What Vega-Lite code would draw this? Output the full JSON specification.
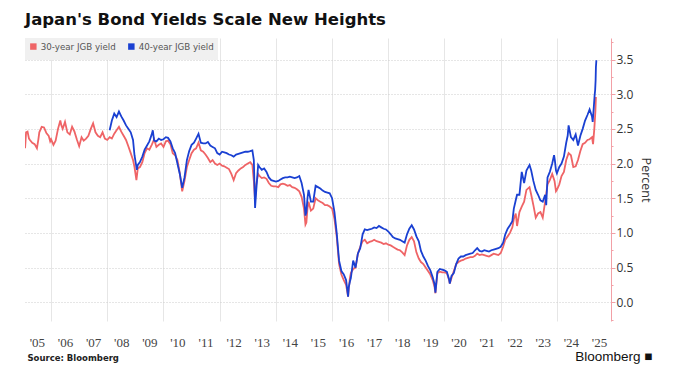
{
  "$schema": "https://vega.github.io/schema/vega-lite/v6.json",
  "width": 586,
  "height": 283,
  "autosize": {"type": "none"},
  "padding": {"left": 25, "top": 38, "right": 69, "bottom": 70},
  "background": "white",
  "title": {"text": "Japan's Bond Yields Scale New Heights", "anchor": "start", "frame": "group", "font": "DejaVu Sans", "fontSize": 16.5, "fontWeight": "bold", "color": "#111111", "offset": 10},
  "config": {"view": {"stroke": null}},
  "datasets": {
    "r30": [
      {"d":"2005-01-28","v":2.22},{"d":"2005-02-10","v":2.45},{"d":"2005-03-01","v":2.46},{"d":"2005-03-20","v":2.36},{"d":"2005-04-01","v":2.34},{"d":"2005-05-01","v":2.30},{"d":"2005-06-01","v":2.28},{"d":"2005-07-01","v":2.22},{"d":"2005-07-20","v":2.35},{"d":"2005-08-01","v":2.45},{"d":"2005-09-01","v":2.53},{"d":"2005-10-01","v":2.52},{"d":"2005-10-20","v":2.47},{"d":"2005-11-01","v":2.44},{"d":"2005-12-01","v":2.40},{"d":"2005-12-20","v":2.32},
      {"d":"2006-01-01","v":2.35},{"d":"2006-02-01","v":2.27},{"d":"2006-03-01","v":2.33},{"d":"2006-04-01","v":2.50},{"d":"2006-05-01","v":2.62},{"d":"2006-05-15","v":2.55},{"d":"2006-06-01","v":2.50},{"d":"2006-07-01","v":2.60},{"d":"2006-08-01","v":2.45},{"d":"2006-09-01","v":2.42},{"d":"2006-10-01","v":2.53},{"d":"2006-11-01","v":2.46},{"d":"2006-12-01","v":2.35},
      {"d":"2007-01-01","v":2.25},{"d":"2007-02-01","v":2.38},{"d":"2007-03-01","v":2.33},{"d":"2007-04-01","v":2.36},{"d":"2007-05-01","v":2.40},{"d":"2007-06-01","v":2.50},{"d":"2007-07-01","v":2.58},{"d":"2007-08-01","v":2.45},{"d":"2007-09-01","v":2.40},{"d":"2007-10-01","v":2.38},{"d":"2007-11-01","v":2.45},{"d":"2007-12-01","v":2.36},
      {"d":"2008-01-01","v":2.34},{"d":"2008-02-01","v":2.38},{"d":"2008-03-01","v":2.36},{"d":"2008-04-01","v":2.43},{"d":"2008-05-01","v":2.48},{"d":"2008-06-01","v":2.53},{"d":"2008-07-01","v":2.46},{"d":"2008-08-01","v":2.40},{"d":"2008-09-01","v":2.34},{"d":"2008-10-01","v":2.25},{"d":"2008-11-01","v":2.15},{"d":"2008-12-01","v":2.05},{"d":"2008-12-20","v":1.95},
      {"d":"2009-01-14","v":1.76},{"d":"2009-02-01","v":1.93},{"d":"2009-03-01","v":1.95},{"d":"2009-04-01","v":2.02},{"d":"2009-05-01","v":2.15},{"d":"2009-06-01","v":2.22},{"d":"2009-07-01","v":2.20},{"d":"2009-08-01","v":2.27},{"d":"2009-09-01","v":2.35},{"d":"2009-10-01","v":2.24},{"d":"2009-11-01","v":2.27},{"d":"2009-12-01","v":2.29},
      {"d":"2010-01-01","v":2.24},{"d":"2010-02-01","v":2.32},{"d":"2010-03-01","v":2.33},{"d":"2010-04-01","v":2.28},{"d":"2010-05-01","v":2.15},{"d":"2010-06-01","v":2.12},{"d":"2010-07-01","v":2.05},{"d":"2010-08-01","v":1.86},{"d":"2010-09-01","v":1.60},{"d":"2010-10-01","v":1.75},{"d":"2010-11-01","v":1.95},{"d":"2010-12-01","v":2.05},
      {"d":"2011-01-01","v":2.15},{"d":"2011-02-01","v":2.20},{"d":"2011-03-01","v":2.22},{"d":"2011-04-01","v":2.30},{"d":"2011-05-01","v":2.19},{"d":"2011-06-01","v":2.17},{"d":"2011-07-01","v":2.13},{"d":"2011-08-01","v":2.08},{"d":"2011-09-01","v":2.02},{"d":"2011-10-01","v":2.05},{"d":"2011-11-01","v":2.00},{"d":"2011-12-01","v":1.98},
      {"d":"2012-01-01","v":2.00},{"d":"2012-02-01","v":1.97},{"d":"2012-03-01","v":1.96},{"d":"2012-04-01","v":1.94},{"d":"2012-05-01","v":1.92},{"d":"2012-06-01","v":1.85},{"d":"2012-07-01","v":1.76},{"d":"2012-08-01","v":1.86},{"d":"2012-09-01","v":1.90},{"d":"2012-10-01","v":1.93},{"d":"2012-11-01","v":1.95},{"d":"2012-12-01","v":1.98},
      {"d":"2013-01-01","v":2.00},{"d":"2013-02-01","v":2.02},{"d":"2013-03-01","v":1.98},{"d":"2013-03-20","v":1.75},{"d":"2013-04-05","v":1.47},{"d":"2013-04-20","v":1.70},{"d":"2013-05-15","v":1.85},{"d":"2013-06-01","v":1.82},{"d":"2013-07-01","v":1.79},{"d":"2013-08-01","v":1.80},{"d":"2013-09-01","v":1.78},{"d":"2013-10-01","v":1.72},{"d":"2013-11-01","v":1.68},{"d":"2013-12-01","v":1.67},
      {"d":"2014-01-01","v":1.67},{"d":"2014-02-01","v":1.66},{"d":"2014-03-01","v":1.70},{"d":"2014-04-01","v":1.71},{"d":"2014-05-01","v":1.70},{"d":"2014-06-01","v":1.68},{"d":"2014-07-01","v":1.69},{"d":"2014-08-01","v":1.66},{"d":"2014-09-01","v":1.65},{"d":"2014-10-01","v":1.63},{"d":"2014-11-01","v":1.60},{"d":"2014-12-01","v":1.52},
      {"d":"2015-01-01","v":1.35},{"d":"2015-01-20","v":1.12},{"d":"2015-02-01","v":1.15},{"d":"2015-02-15","v":1.35},{"d":"2015-03-01","v":1.45},{"d":"2015-04-01","v":1.32},{"d":"2015-05-01","v":1.35},{"d":"2015-06-01","v":1.50},{"d":"2015-07-01","v":1.47},{"d":"2015-08-01","v":1.45},{"d":"2015-09-01","v":1.43},{"d":"2015-10-01","v":1.40},{"d":"2015-11-01","v":1.40},{"d":"2015-12-01","v":1.38},
      {"d":"2016-01-01","v":1.35},{"d":"2016-02-01","v":1.20},{"d":"2016-03-01","v":0.95},{"d":"2016-04-01","v":0.55},{"d":"2016-05-01","v":0.40},{"d":"2016-06-01","v":0.32},{"d":"2016-07-01","v":0.25},{"d":"2016-07-27","v":0.08},{"d":"2016-08-05","v":0.20},{"d":"2016-08-20","v":0.35},{"d":"2016-09-01","v":0.42},{"d":"2016-10-01","v":0.48},{"d":"2016-11-01","v":0.50},{"d":"2016-12-01","v":0.70},
      {"d":"2017-01-01","v":0.80},{"d":"2017-02-01","v":0.88},{"d":"2017-03-01","v":0.90},{"d":"2017-04-01","v":0.85},{"d":"2017-05-01","v":0.87},{"d":"2017-06-01","v":0.88},{"d":"2017-07-01","v":0.90},{"d":"2017-08-01","v":0.88},{"d":"2017-09-01","v":0.87},{"d":"2017-10-01","v":0.86},{"d":"2017-11-01","v":0.84},{"d":"2017-12-01","v":0.85},
      {"d":"2018-01-01","v":0.83},{"d":"2018-02-01","v":0.82},{"d":"2018-03-01","v":0.80},{"d":"2018-04-01","v":0.78},{"d":"2018-05-01","v":0.76},{"d":"2018-06-01","v":0.75},{"d":"2018-07-01","v":0.72},{"d":"2018-08-01","v":0.68},{"d":"2018-09-01","v":0.82},{"d":"2018-10-01","v":0.90},{"d":"2018-11-01","v":0.94},{"d":"2018-12-01","v":0.88},
      {"d":"2019-01-01","v":0.72},{"d":"2019-02-01","v":0.63},{"d":"2019-03-01","v":0.58},{"d":"2019-04-01","v":0.55},{"d":"2019-05-01","v":0.50},{"d":"2019-06-01","v":0.45},{"d":"2019-07-01","v":0.40},{"d":"2019-08-01","v":0.32},{"d":"2019-08-25","v":0.22},{"d":"2019-09-05","v":0.13},{"d":"2019-09-20","v":0.30},{"d":"2019-10-01","v":0.42},{"d":"2019-11-01","v":0.44},{"d":"2019-12-01","v":0.43},
      {"d":"2020-01-01","v":0.43},{"d":"2020-02-01","v":0.42},{"d":"2020-03-01","v":0.32},{"d":"2020-03-10","v":0.27},{"d":"2020-04-01","v":0.35},{"d":"2020-05-01","v":0.45},{"d":"2020-06-01","v":0.55},{"d":"2020-07-01","v":0.58},{"d":"2020-08-01","v":0.60},{"d":"2020-09-01","v":0.61},{"d":"2020-10-01","v":0.63},{"d":"2020-11-01","v":0.64},{"d":"2020-12-01","v":0.65},
      {"d":"2021-01-01","v":0.65},{"d":"2021-02-01","v":0.67},{"d":"2021-03-01","v":0.70},{"d":"2021-04-01","v":0.68},{"d":"2021-05-01","v":0.69},{"d":"2021-06-01","v":0.68},{"d":"2021-07-01","v":0.67},{"d":"2021-08-01","v":0.66},{"d":"2021-09-01","v":0.68},{"d":"2021-10-01","v":0.70},{"d":"2021-11-01","v":0.69},{"d":"2021-12-01","v":0.68},
      {"d":"2022-01-01","v":0.71},{"d":"2022-02-01","v":0.80},{"d":"2022-03-01","v":0.90},{"d":"2022-04-01","v":0.95},{"d":"2022-05-01","v":1.00},{"d":"2022-06-01","v":1.08},{"d":"2022-06-20","v":1.20},{"d":"2022-07-15","v":1.28},{"d":"2022-08-01","v":1.10},{"d":"2022-09-01","v":1.30},{"d":"2022-10-01","v":1.38},{"d":"2022-11-01","v":1.45},{"d":"2022-12-01","v":1.62},
      {"d":"2023-01-10","v":1.66},{"d":"2023-02-01","v":1.55},{"d":"2023-03-01","v":1.40},{"d":"2023-04-01","v":1.22},{"d":"2023-05-01","v":1.28},{"d":"2023-06-01","v":1.30},{"d":"2023-07-01","v":1.22},{"d":"2023-08-01","v":1.45},{"d":"2023-09-01","v":1.70},{"d":"2023-10-01","v":1.76},{"d":"2023-11-01","v":1.85},{"d":"2023-12-01","v":1.75},{"d":"2023-12-20","v":1.60},
      {"d":"2024-01-01","v":1.62},{"d":"2024-02-01","v":1.70},{"d":"2024-03-01","v":1.82},{"d":"2024-04-01","v":1.88},{"d":"2024-05-01","v":2.05},{"d":"2024-06-01","v":2.15},{"d":"2024-07-01","v":2.12},{"d":"2024-08-01","v":1.95},{"d":"2024-09-01","v":1.96},{"d":"2024-10-01","v":2.05},{"d":"2024-11-01","v":2.18},{"d":"2024-12-01","v":2.28},
      {"d":"2025-01-01","v":2.30},{"d":"2025-02-01","v":2.34},{"d":"2025-03-01","v":2.35},{"d":"2025-04-01","v":2.38},{"d":"2025-04-15","v":2.28},{"d":"2025-05-01","v":2.50},{"d":"2025-05-15","v":2.75},{"d":"2025-05-22","v":2.96}
    ],
    "r40": [
      {"d":"2008-02-01","v":2.48},{"d":"2008-03-01","v":2.62},{"d":"2008-04-01","v":2.72},{"d":"2008-05-01","v":2.67},{"d":"2008-06-01","v":2.75},{"d":"2008-07-01","v":2.68},{"d":"2008-08-01","v":2.62},{"d":"2008-09-01","v":2.55},{"d":"2008-10-01","v":2.50},{"d":"2008-11-01","v":2.45},{"d":"2008-12-01","v":2.34},{"d":"2008-12-20","v":2.12},
      {"d":"2009-01-20","v":1.91},{"d":"2009-02-01","v":1.98},{"d":"2009-03-01","v":2.02},{"d":"2009-04-01","v":2.10},{"d":"2009-05-01","v":2.20},{"d":"2009-06-01","v":2.26},{"d":"2009-07-01","v":2.32},{"d":"2009-08-01","v":2.42},{"d":"2009-08-15","v":2.48},{"d":"2009-09-01","v":2.33},{"d":"2009-10-01","v":2.32},{"d":"2009-11-01","v":2.36},{"d":"2009-12-01","v":2.34},
      {"d":"2010-01-01","v":2.35},{"d":"2010-02-01","v":2.38},{"d":"2010-03-01","v":2.37},{"d":"2010-04-01","v":2.32},{"d":"2010-05-01","v":2.22},{"d":"2010-06-01","v":2.15},{"d":"2010-07-01","v":2.00},{"d":"2010-08-01","v":1.85},{"d":"2010-09-01","v":1.65},{"d":"2010-10-01","v":1.80},{"d":"2010-11-01","v":2.05},{"d":"2010-12-01","v":2.18},
      {"d":"2011-01-01","v":2.27},{"d":"2011-02-01","v":2.30},{"d":"2011-03-01","v":2.36},{"d":"2011-04-01","v":2.43},{"d":"2011-05-01","v":2.30},{"d":"2011-06-01","v":2.29},{"d":"2011-07-01","v":2.29},{"d":"2011-08-01","v":2.31},{"d":"2011-09-01","v":2.26},{"d":"2011-10-01","v":2.24},{"d":"2011-11-01","v":2.22},{"d":"2011-12-01","v":2.15},
      {"d":"2012-01-01","v":2.13},{"d":"2012-02-01","v":2.17},{"d":"2012-03-01","v":2.16},{"d":"2012-04-01","v":2.15},{"d":"2012-05-01","v":2.13},{"d":"2012-06-01","v":2.12},{"d":"2012-07-01","v":2.10},{"d":"2012-08-01","v":2.13},{"d":"2012-09-01","v":2.14},{"d":"2012-10-01","v":2.15},{"d":"2012-11-01","v":2.16},{"d":"2012-12-01","v":2.17},
      {"d":"2013-01-01","v":2.17},{"d":"2013-02-01","v":2.18},{"d":"2013-03-01","v":2.19},{"d":"2013-03-20","v":2.05},{"d":"2013-04-05","v":1.36},{"d":"2013-04-20","v":1.60},{"d":"2013-05-15","v":1.98},{"d":"2013-06-01","v":1.95},{"d":"2013-07-01","v":1.91},{"d":"2013-08-01","v":1.93},{"d":"2013-09-01","v":1.88},{"d":"2013-10-01","v":1.80},{"d":"2013-11-01","v":1.76},{"d":"2013-12-01","v":1.75},
      {"d":"2014-01-01","v":1.74},{"d":"2014-02-01","v":1.75},{"d":"2014-03-01","v":1.77},{"d":"2014-04-01","v":1.79},{"d":"2014-05-01","v":1.80},{"d":"2014-06-01","v":1.80},{"d":"2014-07-01","v":1.81},{"d":"2014-08-01","v":1.80},{"d":"2014-09-01","v":1.79},{"d":"2014-10-01","v":1.80},{"d":"2014-11-01","v":1.82},{"d":"2014-12-01","v":1.72},
      {"d":"2015-01-01","v":1.55},{"d":"2015-01-20","v":1.25},{"d":"2015-02-01","v":1.30},{"d":"2015-02-15","v":1.50},{"d":"2015-03-01","v":1.62},{"d":"2015-04-01","v":1.45},{"d":"2015-05-01","v":1.45},{"d":"2015-06-01","v":1.68},{"d":"2015-07-01","v":1.66},{"d":"2015-08-01","v":1.64},{"d":"2015-09-01","v":1.61},{"d":"2015-10-01","v":1.59},{"d":"2015-11-01","v":1.58},{"d":"2015-12-01","v":1.57},
      {"d":"2016-01-01","v":1.50},{"d":"2016-02-01","v":1.30},{"d":"2016-03-01","v":1.00},{"d":"2016-04-01","v":0.60},{"d":"2016-05-01","v":0.45},{"d":"2016-06-01","v":0.40},{"d":"2016-07-01","v":0.32},{"d":"2016-07-27","v":0.08},{"d":"2016-08-05","v":0.22},{"d":"2016-08-20","v":0.30},{"d":"2016-09-01","v":0.35},{"d":"2016-10-01","v":0.60},{"d":"2016-11-01","v":0.50},{"d":"2016-12-01","v":0.70},
      {"d":"2017-01-01","v":0.78},{"d":"2017-02-01","v":0.98},{"d":"2017-03-01","v":1.05},{"d":"2017-04-01","v":1.04},{"d":"2017-05-01","v":1.05},{"d":"2017-06-01","v":1.06},{"d":"2017-07-01","v":1.08},{"d":"2017-08-01","v":1.07},{"d":"2017-09-01","v":1.10},{"d":"2017-10-01","v":1.08},{"d":"2017-11-01","v":1.06},{"d":"2017-12-01","v":1.05},
      {"d":"2018-01-01","v":1.02},{"d":"2018-02-01","v":0.98},{"d":"2018-03-01","v":0.94},{"d":"2018-04-01","v":0.92},{"d":"2018-05-01","v":0.91},{"d":"2018-06-01","v":0.90},{"d":"2018-07-01","v":0.88},{"d":"2018-08-01","v":0.86},{"d":"2018-09-01","v":0.98},{"d":"2018-10-01","v":1.06},{"d":"2018-11-01","v":1.11},{"d":"2018-12-01","v":1.05},
      {"d":"2019-01-01","v":0.95},{"d":"2019-02-01","v":0.88},{"d":"2019-03-01","v":0.74},{"d":"2019-04-01","v":0.66},{"d":"2019-05-01","v":0.60},{"d":"2019-06-01","v":0.52},{"d":"2019-07-01","v":0.46},{"d":"2019-08-01","v":0.36},{"d":"2019-08-25","v":0.26},{"d":"2019-09-05","v":0.14},{"d":"2019-09-20","v":0.32},{"d":"2019-10-01","v":0.44},{"d":"2019-11-01","v":0.48},{"d":"2019-12-01","v":0.47},
      {"d":"2020-01-01","v":0.46},{"d":"2020-02-01","v":0.44},{"d":"2020-03-01","v":0.33},{"d":"2020-03-10","v":0.27},{"d":"2020-04-01","v":0.38},{"d":"2020-05-01","v":0.42},{"d":"2020-06-01","v":0.55},{"d":"2020-07-01","v":0.63},{"d":"2020-08-01","v":0.66},{"d":"2020-09-01","v":0.66},{"d":"2020-10-01","v":0.68},{"d":"2020-11-01","v":0.69},{"d":"2020-12-01","v":0.70},
      {"d":"2021-01-01","v":0.71},{"d":"2021-02-01","v":0.75},{"d":"2021-03-01","v":0.78},{"d":"2021-04-01","v":0.74},{"d":"2021-05-01","v":0.73},{"d":"2021-06-01","v":0.75},{"d":"2021-07-01","v":0.74},{"d":"2021-08-01","v":0.73},{"d":"2021-09-01","v":0.75},{"d":"2021-10-01","v":0.76},{"d":"2021-11-01","v":0.77},{"d":"2021-12-01","v":0.78},
      {"d":"2022-01-01","v":0.80},{"d":"2022-02-01","v":0.86},{"d":"2022-03-01","v":0.98},{"d":"2022-04-01","v":1.06},{"d":"2022-05-01","v":1.11},{"d":"2022-06-01","v":1.17},{"d":"2022-06-20","v":1.35},{"d":"2022-07-15","v":1.47},{"d":"2022-08-01","v":1.55},{"d":"2022-09-01","v":1.55},{"d":"2022-10-01","v":1.88},{"d":"2022-11-01","v":1.72},{"d":"2022-12-01","v":1.90},
      {"d":"2023-01-10","v":1.98},{"d":"2023-02-01","v":1.90},{"d":"2023-03-01","v":1.75},{"d":"2023-04-01","v":1.62},{"d":"2023-05-01","v":1.55},{"d":"2023-06-01","v":1.47},{"d":"2023-07-01","v":1.45},{"d":"2023-08-01","v":1.55},{"d":"2023-08-15","v":1.40},{"d":"2023-09-01","v":1.80},{"d":"2023-10-01","v":1.88},{"d":"2023-11-01","v":2.00},{"d":"2023-11-25","v":2.12},{"d":"2023-12-05","v":2.05},{"d":"2023-12-20","v":1.90},
      {"d":"2024-01-01","v":1.86},{"d":"2024-02-01","v":1.95},{"d":"2024-03-01","v":2.00},{"d":"2024-04-01","v":2.10},{"d":"2024-05-01","v":2.30},{"d":"2024-05-20","v":2.40},{"d":"2024-06-01","v":2.55},{"d":"2024-07-01","v":2.38},{"d":"2024-08-01","v":2.34},{"d":"2024-09-01","v":2.42},{"d":"2024-10-01","v":2.26},{"d":"2024-11-01","v":2.40},{"d":"2024-12-01","v":2.50},
      {"d":"2025-01-01","v":2.62},{"d":"2025-02-01","v":2.70},{"d":"2025-03-01","v":2.78},{"d":"2025-04-01","v":2.68},{"d":"2025-04-10","v":2.60},{"d":"2025-04-25","v":2.82},{"d":"2025-05-05","v":2.98},{"d":"2025-05-12","v":3.06},{"d":"2025-05-18","v":3.20},{"d":"2025-05-22","v":3.39},{"d":"2025-05-28","v":3.49}
    ]
  },
  "layer": [
    {
      "data": {"name": "r30"},
      "mark": {"type": "line", "strokeWidth": 1.8, "clip": true},
      "encoding": {
        "x": {"field": "d", "type": "temporal",
          "scale": {"domain": [{"year": 2005, "month": 1, "date": 27}, {"year": 2025, "month": 12, "date": 4}]},
          "axis": {
            "orient": "bottom",
            "values": [{"year":2005,"month":7,"date":1},{"year":2006,"month":7,"date":1},{"year":2007,"month":7,"date":1},{"year":2008,"month":7,"date":1},{"year":2009,"month":7,"date":1},{"year":2010,"month":7,"date":1},{"year":2011,"month":7,"date":1},{"year":2012,"month":7,"date":1},{"year":2013,"month":7,"date":1},{"year":2014,"month":7,"date":1},{"year":2015,"month":7,"date":1},{"year":2016,"month":7,"date":1},{"year":2017,"month":7,"date":1},{"year":2018,"month":7,"date":1},{"year":2019,"month":7,"date":1},{"year":2020,"month":7,"date":1},{"year":2021,"month":7,"date":1},{"year":2022,"month":7,"date":1},{"year":2023,"month":7,"date":1},{"year":2024,"month":7,"date":1},{"year":2025,"month":7,"date":1}],
            "format": "'%y", "formatType": "time",
            "grid": false, "ticks": false, "domain": false,
            "labelFont": "Liberation Sans Narrow", "labelFontSize": 13, "labelColor": "#444444", "labelPadding": 15, "labelFlush": false, "labelOverlap": false,
            "title": "Source: Bloomberg", "titleAnchor": "start", "titleAlign": "left", "titleFont": "DejaVu Sans", "titleFontSize": 8.5, "titleFontWeight": "bold", "titleColor": "#222222", "titleBaseline": "middle", "titleX": 2, "titleY": 36
          }
        },
        "y": {"field": "v", "type": "quantitative",
          "scale": {"domain": [-0.27, 3.81], "nice": false, "zero": false},
          "axis": {
            "orient": "right", "values": [0, 0.5, 1, 1.5, 2, 2.5, 3, 3.5], "format": ".1f",
            "grid": true, "gridColor": "#cccccc", "gridDash": [1, 2], "gridWidth": 1,
            "domain": true, "domainColor": "#f2a0a6", "domainWidth": 1,
            "ticks": true, "tickColor": "#f2a0a6", "tickSize": 4,
            "labelFont": "Open Sans", "labelFontSize": 12, "labelColor": "#333333", "labelPadding": 1,
            "title": "Percent", "titleFont": "Open Sans", "titleFontSize": 12.5, "titleFontWeight": "normal", "titleColor": "#333333", "titlePadding": 6
          }
        },
        "color": {"datum": "30-year JGB yield",
          "scale": {"domain": ["30-year JGB yield", "40-year JGB yield"], "range": ["#ef6466", "#1a40d2"]},
          "legend": {"orient": "top-left", "direction": "horizontal", "title": null, "offset": 0, "padding": 4, "fillColor": "#f0f0f0",
            "symbolType": "square", "symbolSize": 6, "symbolStrokeWidth": 4, "symbolOpacity": 1,
            "labelFont": "DejaVu Sans", "labelFontSize": 8.7, "labelColor": "#555555", "labelOffset": 3, "columnPadding": 6}
        }
      }
    },
    {
      "data": {"name": "r40"},
      "mark": {"type": "line", "strokeWidth": 1.8, "clip": true},
      "encoding": {
        "x": {"field": "d", "type": "temporal",
          "scale": {"domain": [{"year": 2005, "month": 1, "date": 27}, {"year": 2025, "month": 12, "date": 4}]},
          "axis": {
            "orient": "bottom",
            "values": [{"year":2006,"month":1,"date":1},{"year":2008,"month":1,"date":1},{"year":2010,"month":1,"date":1},{"year":2012,"month":1,"date":1},{"year":2014,"month":1,"date":1},{"year":2016,"month":1,"date":1},{"year":2018,"month":1,"date":1},{"year":2020,"month":1,"date":1},{"year":2022,"month":1,"date":1},{"year":2024,"month":1,"date":1}],
            "grid": true, "gridColor": "#e6e6e6", "gridWidth": 1,
            "labels": false, "ticks": false, "domain": false,
            "title": "Bloomberg ■", "titleAlign": "right", "titleFont": "Liberation Sans", "titleFontSize": 13.5, "titleFontWeight": "normal", "titleColor": "#111111", "titleBaseline": "middle", "titleX": 627, "titleY": 35
          }
        },
        "y": {"field": "v", "type": "quantitative",
          "scale": {"domain": [-0.27, 3.81], "nice": false, "zero": false},
          "axis": {
            "orient": "right", "values": [-0.25, 0.25, 0.75, 1.25, 1.75, 2.25, 2.75, 3.25, 3.75],
            "grid": false, "domain": false, "labels": false, "title": null,
            "ticks": true, "tickColor": "#f2a0a6", "tickSize": 2
          }
        },
        "color": {"datum": "40-year JGB yield"}
      }
    }
  ],
  "resolve": {"axis": {"x": "independent", "y": "independent"}}
}
